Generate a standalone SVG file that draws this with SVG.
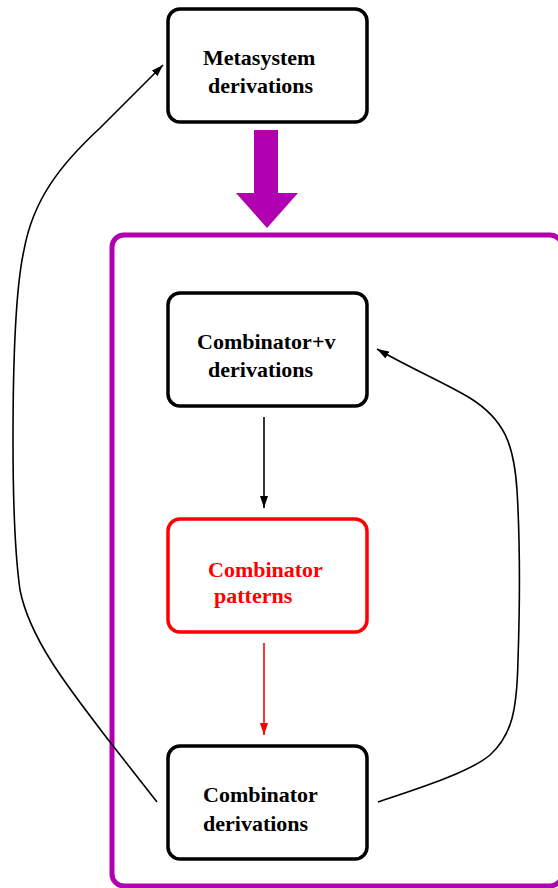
<svg xmlns="http://www.w3.org/2000/svg" width="558" height="888" viewBox="0 0 558 888">
<style>
.box{fill:#fff;stroke:#000;stroke-width:3.5}
.red{stroke:#f00}
.lbl{font-family:"Liberation Serif","Times New Roman",serif;font-weight:bold;font-size:22px;fill:#000}
.rlbl{fill:#f00}
.conn{fill:none;stroke:#000;stroke-width:1.6}
</style>
<defs>
<marker id="ah" viewBox="0 0 12 8" refX="12" refY="4" markerWidth="12" markerHeight="8" markerUnits="userSpaceOnUse" orient="auto">
<path d="M0,0 L12,4 L0,8 Z" fill="#000"/>
</marker>
<marker id="ahr" viewBox="0 0 12 8" refX="12" refY="4" markerWidth="12" markerHeight="8" markerUnits="userSpaceOnUse" orient="auto">
<path d="M0,0 L12,4 L0,8 Z" fill="#f00"/>
</marker>
</defs>
<rect id="container" x="112" y="235" width="450" height="651" rx="12" fill="none" stroke="#b000b0" stroke-width="5"/>
<polygon id="bigarrow" points="254,130 278,130 278,193 298,193 267,228 236,193 254,193" fill="#b000b0"/>
<g id="connectors">
<path class="conn" d="M157,802 L110,742 C70,690 30,640 20,590 C13,540 13,470 13,440 C13,360 15,290 24,250 C33,200 60,165 100,128 L163,65" marker-end="url(#ah)"/>
<path class="conn" d="M378,802 C420,788 470,772 490,755 C512,735 517,710 518,660 C520,600 520,540 517,490 C514,445 505,420 470,398 C445,383 410,368 377,349" marker-end="url(#ah)"/>
<line class="conn" x1="264" y1="417" x2="264" y2="508" marker-end="url(#ah)"/>
<line class="conn" x1="264" y1="643" x2="264" y2="735" stroke="#f00" style="stroke:#f00" marker-end="url(#ahr)"/>
</g>
<g id="metasystem">
<rect class="box" x="168" y="9" width="199" height="113" rx="12"/>
<text class="lbl" x="203" y="65">Metasystem</text>
<text class="lbl" x="208" y="93">derivations</text>
</g>
<g id="combinatorv">
<rect class="box" x="168" y="293" width="199" height="113" rx="12"/>
<text class="lbl" x="197" y="349">Combinator+v</text>
<text class="lbl" x="208" y="377">derivations</text>
</g>
<g id="patterns">
<rect class="box red" x="168" y="519" width="199" height="113" rx="12"/>
<text class="lbl rlbl" x="208" y="577">Combinator</text>
<text class="lbl rlbl" x="214" y="603">patterns</text>
</g>
<g id="combinator">
<rect class="box" x="168" y="746" width="199" height="113" rx="12"/>
<text class="lbl" x="203" y="802">Combinator</text>
<text class="lbl" x="203" y="831">derivations</text>
</g>
</svg>
